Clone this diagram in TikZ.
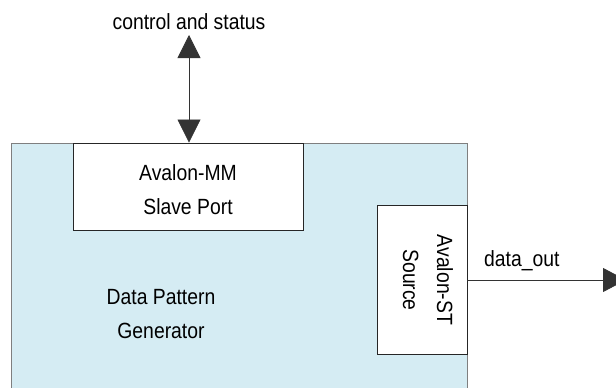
\documentclass[tikz,border=0pt]{standalone}
\usepackage{fontspec}
\setmainfont{Liberation Sans}[FakeStretch=0.88]
\usetikzlibrary{arrows.meta}
\definecolor{genfill}{HTML}{D5ECF3}
\definecolor{genline}{HTML}{7F7F7F}
\tikzset{
  port/.style={draw=black!85, fill=white, line width=0.9pt, inner sep=0pt},
  lbl/.style={font=\fontsize{22}{34}\selectfont, inner sep=0pt, align=center},
  conn/.style={line width=0.8pt, black!80}
}
\begin{document}
\begin{tikzpicture}[x=1pt,y=-1pt]
\useasboundingbox (0,0) rectangle (616,388);
% generator body (bottom cut off)
\fill[genfill] (11,143) rectangle (467,392);
\draw[genline, line width=1pt] (11,392) -- (11,143) -- (467,143) -- (467,392);
\node[lbl] (gen) at (161,314) {Data Pattern\\Generator};
% Avalon-MM slave port
\node[port, minimum width=230pt, minimum height=87pt] (mm) at (188,186.5) {};
\node[lbl] (mmtxt) at (188,190) {Avalon-MM\\Slave Port};
% Avalon-ST source
\node[port, minimum width=90pt, minimum height=149pt] (st) at (422,279.5) {};
\node[lbl, rotate=-90] (sttxt) at (428,280) {Avalon-ST\\Source};
% control and status
\node[lbl, anchor=base] (cs) at (189,29) {control and status};
\coordinate (cstop) at (189,35);
\draw[conn, {Triangle[width=23pt,length=23pt]}-{Triangle[width=23pt,length=23pt]}] (cstop) -- (mm.north -| cstop);
% data_out
\coordinate (dout) at (626,280);
\draw[conn, -{Triangle[width=24pt,length=23pt]}] (st.east |- dout) -- (dout);
\node[lbl, anchor=base west] (dl) at (484,266) {data\_out};
\end{tikzpicture}
\end{document}
